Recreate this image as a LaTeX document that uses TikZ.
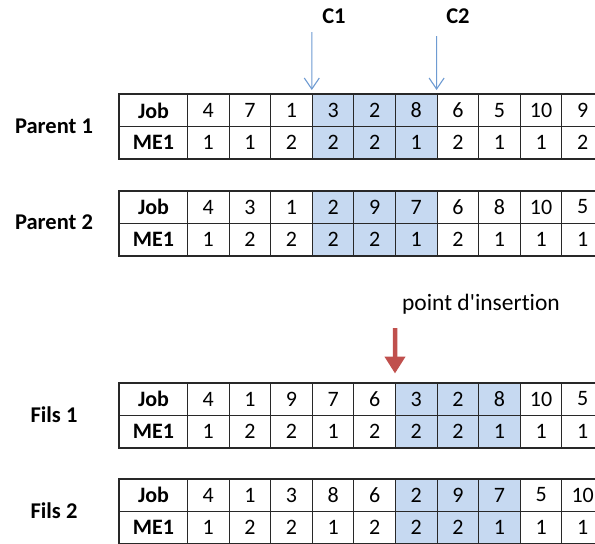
\documentclass[tikz,border=0pt]{standalone}
\usepackage{fontspec}
\setmainfont[Ligatures={TeXOff,NoCommon}]{Carlito}
\usetikzlibrary{arrows.meta}
\definecolor{shadeblue}{RGB}{198,217,241}
\definecolor{arrowblue}{RGB}{110,155,210}
\definecolor{insred}{RGB}{192,80,77}
\definecolor{gridline}{RGB}{40,40,40}
\tikzset{
  cell/.style={draw=gridline, line width=1pt, minimum height=32pt, minimum width=41.6pt,
    inner sep=0pt, anchor=north west, font=\fontsize{22}{22}\selectfont},
  headcell/.style={cell, minimum width=68pt, font=\fontsize{22}{22}\selectfont\bfseries},
  outerframe/.style={draw=gridline, line width=2pt},
  rowlabel/.style={font=\fontsize{22.5}{22.5}\selectfont\bfseries, inner sep=0pt},
  cutlabel/.style={font=\fontsize{22.5}{22.5}\selectfont\bfseries, inner sep=0pt},
  cutarrow/.style={draw=arrowblue, line width=1.1pt, -{Straight Barb[width=15pt,length=11pt]}, shorten >=4pt},
  insarrow/.style={draw=insred, line width=4.5pt, -{Triangle[width=20pt,length=17pt]}, shorten >=9pt},
  instext/.style={font=\fontsize{23.5}{23.5}\selectfont, inner sep=0pt}
}
% #1 name, #2 top y, #3 jobs, #4 machines, #5 first shaded column
\newcommand\mktable[5]{%
  \node[headcell] (#1j0) at (119,#2) {Job};
  \node[headcell] (#1m0) at (119,{#2+32}) {ME1};
  \foreach \v [count=\i] in {#3} {
    \pgfmathsetmacro\xx{187+41.6*(\i-1)}
    \pgfmathtruncatemacro\sh{and(\i>=#5,\i<#5+3)}
    \ifnum\sh=1 \def\fc{shadeblue}\else\def\fc{white}\fi
    \node[cell, fill=\fc] (#1j\i) at (\xx,#2) {\v};
  }
  \foreach \v [count=\i] in {#4} {
    \pgfmathsetmacro\xx{187+41.6*(\i-1)}
    \pgfmathtruncatemacro\sh{and(\i>=#5,\i<#5+3)}
    \ifnum\sh=1 \def\fc{shadeblue}\else\def\fc{white}\fi
    \node[cell, fill=\fc] (#1m\i) at (\xx,{#2+32}) {\v};
  }
  \draw[outerframe] (#1j0.north west) rectangle (#1m10.south east);
}
\begin{document}
\begin{tikzpicture}[x=1pt, y=-1pt]
\useasboundingbox (0,0) rectangle (595,544);
\clip (0,0) rectangle (595,544);
\fill[white] (0,0) rectangle (595,544);

\mktable{pa}{94}{4,7,1,3,2,8,6,5,10,9}{1,1,2,2,2,1,2,1,1,2}{4}
\mktable{pb}{190.5}{4,3,1,2,9,7,6,8,10,5}{1,2,2,2,2,1,2,1,1,1}{4}
\mktable{fa}{382.5}{4,1,9,7,6,3,2,8,10,5}{1,2,2,1,2,2,2,1,1,1}{6}
\mktable{fb}{478.5}{4,1,3,8,6,2,9,7,5,10}{1,2,2,1,2,2,2,1,1,1}{6}

\node[rowlabel] (lpa) at (54,126.5) {Parent 1};
\node[rowlabel] (lpb) at (54,222) {Parent 2};
\node[rowlabel] (lfa) at (54,414.5) {Fils 1};
\node[rowlabel] (lfb) at (54,510.5) {Fils 2};

\node[cutlabel] (c1) at (334,16) {C1};
\node[cutlabel] (c2) at (458,16) {C2};
\coordinate (c1s) at (311.8,32);
\coordinate (c2s) at (436.6,36);
\draw[cutarrow] (c1s) -- (paj4.north west);
\draw[cutarrow] (c2s) -- (paj7.north west);

\node[instext] (ins) at (481,304) {point d'insertion};
\coordinate (inss) at (395,328);
\draw[insarrow] (inss) -- (faj6.north west);
\end{tikzpicture}
\end{document}
